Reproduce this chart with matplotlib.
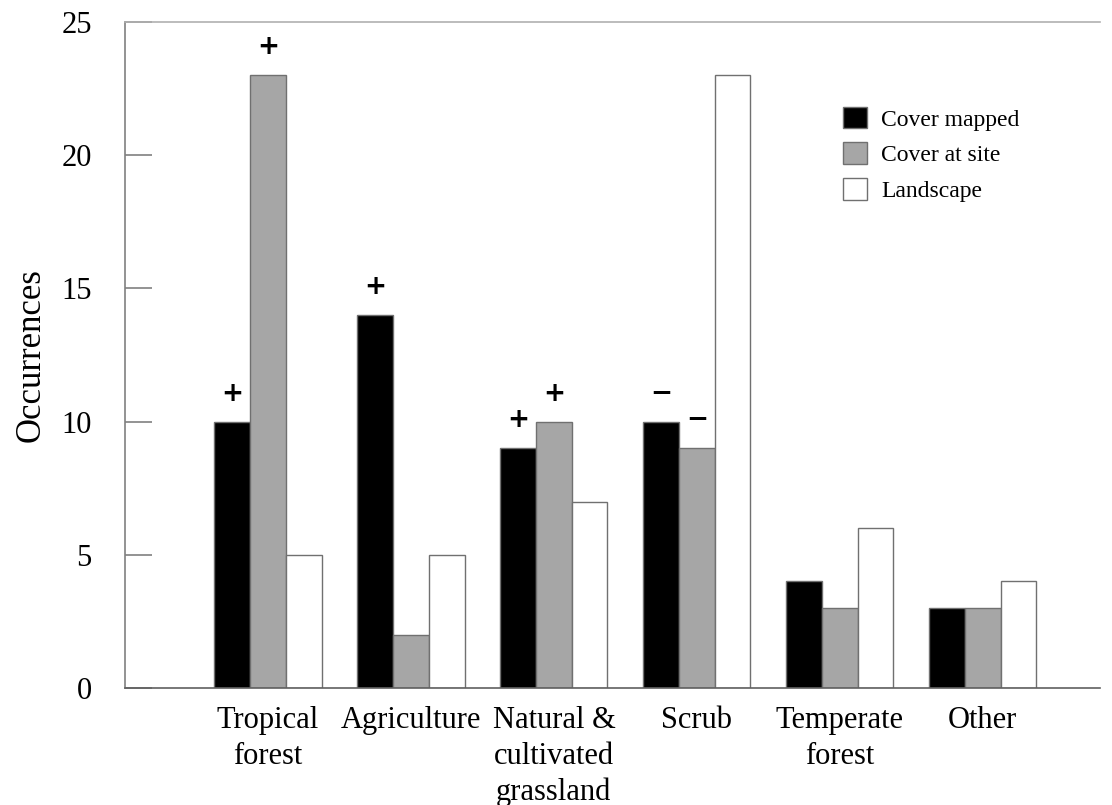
import numpy as np
import matplotlib.pyplot as plt

categories = ["Tropical\nforest", "Agriculture", "Natural &\ncultivated\ngrassland",
              "Scrub", "Temperate\nforest", "Other"]
cover_mapped = [10, 14, 9, 10, 4, 3]
cover_site = [23, 2, 10, 9, 3, 3]
landscape = [5, 5, 7, 23, 6, 4]

# significance signs above bars ("" = none)
signs_mapped = ["+", "+", "+", "\u2212", "", ""]
signs_site = ["+", "", "+", "\u2212", "", ""]

plt.rcParams['font.family'] = ['Liberation Serif', 'DejaVu Serif']

fig = plt.figure(figsize=(11.12, 8.05), dpi=100)
ax = fig.add_axes([125/1112, 117/805, 975/1112, 666/805])

x = np.arange(len(categories))
w = 0.25
edge = '#707070'
b1 = ax.bar(x - w, cover_mapped, w, color='black', edgecolor=edge, linewidth=1, label='Cover mapped')
b2 = ax.bar(x, cover_site, w, color='#a6a6a6', edgecolor=edge, linewidth=1, label='Cover at site')
b3 = ax.bar(x + w, landscape, w, color='white', edgecolor=edge, linewidth=1, label='Landscape')

for xi, v, s in zip(x - w, cover_mapped, signs_mapped):
    if s:
        ax.text(xi, v + 1.05, s, ha='center', va='center', fontsize=19,
                family='DejaVu Sans', fontweight='bold')
for xi, v, s in zip(x, cover_site, signs_site):
    if s:
        ax.text(xi, v + 1.05, s, ha='center', va='center', fontsize=19,
                family='DejaVu Sans', fontweight='bold')

ax.set_xlim(-1.0, 5.82)
ax.set_ylim(0, 25)
ax.set_yticks([0, 5, 10, 15, 20, 25])
ax.set_xticks(x)
ax.set_xticklabels(categories, fontsize=22, linespacing=1.3)
ax.tick_params(axis='x', length=0, pad=13)
ax.tick_params(axis='y', direction='in', length=19.5, width=1.2, color='#808080',
               labelsize=22, pad=24)
ax.set_ylabel("Occurrences", fontsize=25, labelpad=10)

ax.spines['right'].set_visible(False)
ax.spines['top'].set_color('#b0b0b0')
ax.spines['left'].set_color('#808080')
ax.spines['bottom'].set_color('#606060')
for sp in ax.spines.values():
    sp.set_linewidth(1.2)

ax.legend(loc='upper left', bbox_to_anchor=(0.715, 0.905), frameon=False,
          fontsize=17, handlelength=1.0, handleheight=1.05, handletextpad=0.6,
          labelspacing=0.5)

fig.savefig("out.png", dpi=100)
